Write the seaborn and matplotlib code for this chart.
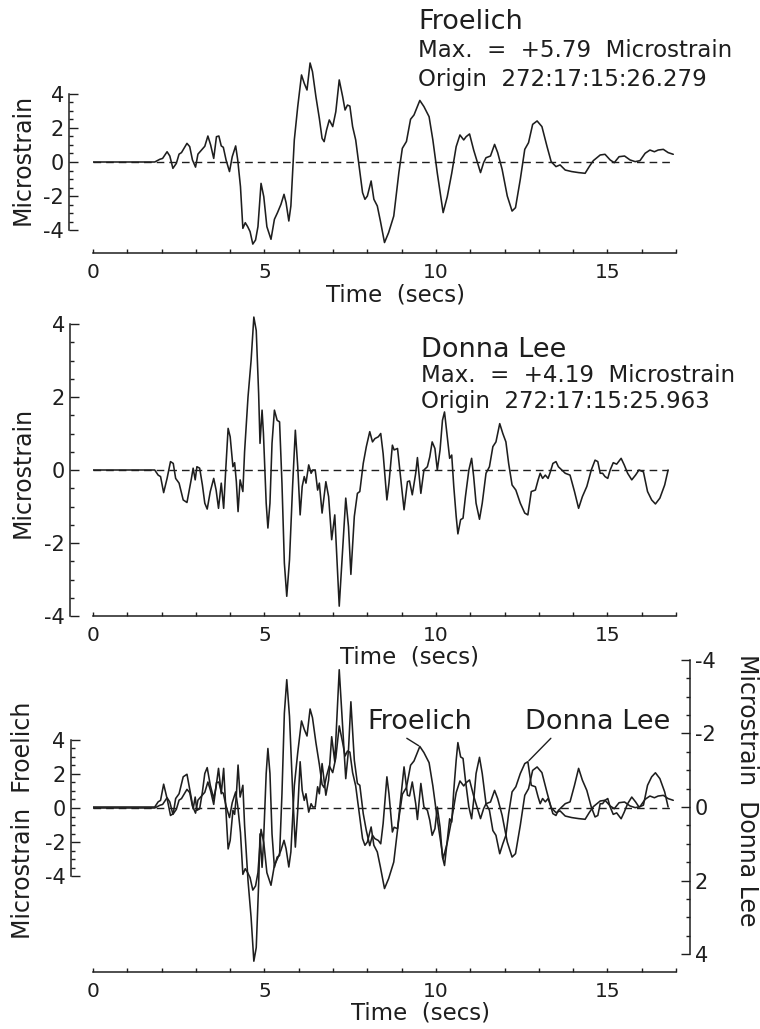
import numpy as np
import matplotlib
matplotlib.use("Agg")
import matplotlib.pyplot as plt
import seaborn as sns
from matplotlib.ticker import FixedLocator

# ---------------- data ----------------
fro_time = [0, 1.80, 1.95, 2.03, 2.16, 2.24, 2.33, 2.43, 2.51, 2.58, 2.74, 2.82, 2.90, 2.99,
            3.06, 3.19, 3.26, 3.35, 3.43, 3.52, 3.60, 3.67, 3.74, 3.80, 3.88, 3.98, 4.06,
            4.16, 4.22, 4.30, 4.37, 4.44, 4.51, 4.58, 4.66, 4.74, 4.81, 4.90, 4.98, 5.07,
            5.19, 5.29, 5.38, 5.48, 5.57, 5.63, 5.71, 5.77, 5.87, 5.97, 6.08, 6.16, 6.24,
            6.33, 6.40, 6.50, 6.60, 6.68, 6.74, 6.81, 6.89, 6.99, 7.08, 7.18, 7.28, 7.35,
            7.42, 7.49, 7.57, 7.66, 7.76, 7.86, 7.93, 8.00, 8.11, 8.19, 8.29, 8.38, 8.50,
            8.62, 8.77, 8.92, 9.02, 9.14, 9.26, 9.36, 9.53, 9.65, 9.80, 9.91, 10.04, 10.21,
            10.33, 10.46, 10.59, 10.70, 10.81, 10.88, 10.98, 11.10, 11.30, 11.39, 11.46,
            11.59, 11.71, 11.80, 11.93, 12.08, 12.22, 12.32, 12.46, 12.59, 12.70, 12.82,
            12.95, 13.09, 13.24, 13.36, 13.50, 13.62, 13.77, 13.96, 14.16, 14.35, 14.47,
            14.59, 14.79, 14.93, 15.08, 15.20, 15.34, 15.50, 15.66, 15.81, 15.95, 16.10,
            16.24, 16.37, 16.48, 16.63, 16.77, 16.92]
fro_strain = [0, 0, 0.16, 0.21, 0.60, 0.35, -0.37, -0.08, 0.46, 0.55, 1.09, 0.90, 0.12, -0.30,
              0.46, 0.76, 0.92, 1.52, 1.00, 0.21, 1.48, 1.52, 0.94, 0.86, 0.12, -0.56, 0.31,
              0.94, 0.12, -1.44, -3.88, -3.55, -3.78, -4.07, -4.80, -4.56, -3.78, -1.25, -2.03,
              -3.78, -4.52, -3.35, -2.96, -2.48, -1.89, -2.38, -3.45, -2.57, 1.29, 3.24, 5.09,
              4.60, 4.21, 5.79, 5.28, 3.82, 2.55, 1.38, 1.19, 1.87, 2.46, 2.07, 2.94, 4.80,
              3.82, 3.04, 3.33, 3.27, 2.07, 1.29, -0.23, -1.79, -2.18, -1.99, -1.11, -2.18,
              -2.57, -3.45, -4.71, -4.13, -3.16, -0.60, 0.80, 1.20, 2.50, 2.75, 3.60, 3.24,
              2.65, 1.29, -0.66, -2.96, -2.03, -0.66, 0.90, 1.58, 1.29, 1.48, 1.64, 0.70,
              -0.62, -0.04, 0.25, 0.35, 1.03, 0.55, -0.43, -1.99, -2.87, -2.67, -1.01, 0.74,
              1.13, 2.20, 2.40, 2.07, 0.90, 0.02, -0.27, -0.17, -0.47, -0.56, -0.62, -0.66,
              -0.27, 0.08, 0.41, 0.45, 0.12, -0.04, 0.31, 0.35, 0.12, 0.02, 0.08, 0.51, 0.70,
              0.60, 0.70, 0.74, 0.55, 0.45]

dl_time = [0, 1.80, 1.90, 1.97, 2.06, 2.16, 2.26, 2.34, 2.41, 2.51, 2.63, 2.74, 2.80, 2.87,
           2.92, 2.98, 3.03, 3.11, 3.19, 3.26, 3.33, 3.42, 3.52, 3.59, 3.66, 3.74, 3.81, 3.87,
           3.94, 4.00, 4.08, 4.13, 4.18, 4.23, 4.29, 4.37, 4.42, 4.52, 4.61, 4.69, 4.76, 4.83,
           4.87, 4.93, 4.97, 5.05, 5.10, 5.16, 5.22, 5.29, 5.37, 5.44, 5.51, 5.58, 5.65, 5.73,
           5.82, 5.90, 5.97, 6.04, 6.10, 6.16, 6.21, 6.29, 6.36, 6.41, 6.48, 6.55, 6.60, 6.68,
           6.79, 6.87, 6.96, 7.05, 7.18, 7.28, 7.37, 7.45, 7.52, 7.62, 7.71, 7.78, 7.88, 7.97,
           8.07, 8.15, 8.22, 8.32, 8.39, 8.46, 8.57, 8.63, 8.73, 8.78, 8.88, 9.07, 9.17, 9.23,
           9.31, 9.41, 9.46, 9.56, 9.65, 9.75, 9.82, 9.89, 9.97, 10.04, 10.12, 10.19, 10.25,
           10.33, 10.40, 10.46, 10.52, 10.59, 10.64, 10.72, 10.79, 10.86, 10.96, 11.04, 11.10,
           11.17, 11.27, 11.35, 11.46, 11.56, 11.66, 11.75, 11.86, 11.95, 12.04, 12.12, 12.22,
           12.33, 12.46, 12.59, 12.68, 12.78, 12.90, 12.98, 13.04, 13.11, 13.19, 13.27, 13.33,
           13.41, 13.50, 13.57, 13.67, 13.77, 13.91, 14.04, 14.16, 14.27, 14.40, 14.53, 14.64,
           14.72, 14.79, 14.86, 14.93, 15.01, 15.08, 15.17, 15.27, 15.40, 15.49, 15.59, 15.71,
           15.82, 15.92, 16.05, 16.17, 16.29, 16.40, 16.53, 16.67, 16.77]
dl_strain = [0, 0, -0.14, -0.18, -0.62, -0.23, 0.23, 0.18, -0.23, -0.36, -0.82, -0.89, -0.59,
             -0.23, 0.05, -0.27, 0.09, 0.05, -0.41, -0.91, -1.07, -0.59, -0.23, -0.55, -1.05,
             -0.36, -1.05, 0.00, 1.14, 0.91, 0.09, 0.20, -0.32, -1.14, -0.27, -0.59, 0.50, 2.00,
             3.00, 4.19, 3.82, 2.09, 0.73, 1.64, 1.00, -0.91, -1.59, -0.91, 0.73, 1.64, 1.36,
             1.32, -0.36, -2.55, -3.46, -2.46, -0.45, 1.09, 0.09, -1.23, -0.45, -0.18, -0.36,
             0.14, -0.09, 0.00, 0.00, -0.55, -0.36, -1.18, -0.32, -0.73, -1.91, -1.23, -3.73,
             -2.18, -0.77, -1.55, -2.86, -1.27, -0.64, -0.59, 0.18, 0.64, 1.05, 0.77, 0.86, 0.91,
             1.00, 0.45, -0.82, -0.36, 0.68, 0.55, 0.59, -1.09, -0.32, -0.30, -0.68, -0.09, 0.34,
             -0.64, 0.00, 0.09, 0.36, 0.77, 0.59, 0.00, 0.55, 1.36, 1.59, 0.91, 0.32, 0.41, -0.45,
             -1.27, -1.75, -1.36, -1.32, -0.73, 0.00, 0.32, -0.18, -0.91, -1.35, -0.91, -0.09,
             0.09, 0.64, 0.77, 1.27, 1.00, 0.77, 0.18, -0.41, -0.55, -0.91, -1.18, -1.23, -0.59,
             -0.55, -0.27, -0.09, -0.23, -0.14, -0.23, -0.07, 0.18, 0.23, 0.09, 0.00, -0.09,
             -0.14, -0.59, -1.05, -0.73, -0.45, 0.00, 0.27, 0.23, -0.09, -0.09, -0.18, -0.23,
             0.00, 0.20, 0.16, 0.32, 0.14, -0.09, -0.27, -0.14, 0.00, -0.05, -0.59, -0.82, -0.93,
             -0.77, -0.41, 0.00]

x_major = [0, 5, 10, 15]
y_major = [-4, -2, 0, 2, 4]
x_label = "Time  (secs)"

fro_title = "Froelich"
fro_max = "Max.  =  +5.79  Microstrain"
fro_origin = "Origin  272:17:15:26.279"
dl_title = "Donna Lee"
dl_max = "Max.  =  +4.19  Microstrain"
dl_origin = "Origin  272:17:15:25.963"

# ---------------- style ----------------
sns.set_style("ticks")
plt.rcParams["font.family"] = ["DejaVu Sans"]
plt.rcParams["axes.unicode_minus"] = False
INK = "#1e1e1e"

W, H = 760, 1029
fig = plt.figure(figsize=(W / 100, H / 100), dpi=100)
fig.patch.set_facecolor("white")


def rect(x0, x1, ytop, ybot):
    return [x0 / W, 1 - ybot / H, (x1 - x0) / W, (ybot - ytop) / H]


def P(x, y):
    return (x / W, 1 - y / H)


def px2pt(p):
    return p * 72.0 / 100.0


XL = (0, 17.0)
X0, X1 = 93, 676


def style_x(ax):
    ax.set_xlim(*XL)
    ax.spines["bottom"].set_visible(True)
    ax.spines["bottom"].set_linewidth(1.1)
    ax.spines["bottom"].set_color(INK)
    ax.xaxis.set_major_locator(FixedLocator(x_major))
    ax.xaxis.set_minor_locator(FixedLocator(np.arange(0, 17.01, 1.0)))
    ax.tick_params(axis="x", which="both", direction="in", length=3.2, width=1,
                   color=INK, labelsize=14.5, labelcolor=INK, pad=7.5,
                   top=False, bottom=True)


def style_y(ax, side, outward_px):
    sp = ax.spines[side]
    sp.set_visible(True)
    sp.set_position(("outward", px2pt(outward_px)))
    sp.set_bounds(-4, 4)
    sp.set_linewidth(1.1)
    sp.set_color(INK)
    ax.yaxis.set_major_locator(FixedLocator(y_major))
    ax.yaxis.set_minor_locator(FixedLocator(np.arange(-4, 4.01, 0.5)))
    ax.tick_params(axis="y", which="major", direction="in", length=6.5, width=1,
                   color=INK, labelsize=15, labelcolor=INK, pad=3.5)
    ax.tick_params(axis="y", which="minor", direction="in", length=3.2, width=1, color=INK)


def bare(ax):
    for s in ["top", "right", "left", "bottom"]:
        ax.spines[s].set_visible(False)
    ax.set_facecolor("none")


def trace(ax, t, v):
    sns.lineplot(x=t, y=v, ax=ax, color=INK, linewidth=1.15, estimator=None,
                 sort=False, legend=False, zorder=3)
    ax.hlines(0, t[0], t[-1], colors=INK, linewidth=1.0,
              linestyles=(0, (5.5, 3.6)), zorder=2)


def xlab(ax, y, xc):
    ax.set_xlabel(x_label, fontsize=16.5, color=INK)
    ax.xaxis.set_label_coords(*P(xc, y), transform=fig.transFigure)
    ax.xaxis.label.set_va("center")


def ylab(ax, text, x, y, rot=90):
    ax.set_ylabel(text, fontsize=17, color=INK, rotation=rot)
    ax.yaxis.set_label_coords(*P(x, y), transform=fig.transFigure)
    ax.yaxis.label.set_va("center")
    ax.yaxis.label.set_ha("center")


# ---------------- panel 1: Froelich ----------------
ax1 = fig.add_axes(rect(X0, X1, 40, 253))
bare(ax1)
trace(ax1, fro_time, fro_strain)
ax1.set_ylim((162 - 253) / 17.1, (162 - 40) / 17.1)
style_x(ax1)
style_y(ax1, "left", 24)
xlab(ax1, 295, 395)
ylab(ax1, "Microstrain", 23, 159)

fig.text(*P(418, 29), fro_title, fontsize=19.5, color=INK, va="baseline")
fig.text(*P(418, 57), fro_max, fontsize=16.5, color=INK, va="baseline")
fig.text(*P(418, 86), fro_origin, fontsize=16.5, color=INK, va="baseline")

# ---------------- panel 2: Donna Lee ----------------
ax2 = fig.add_axes(rect(X0, X1, 300, 616))
bare(ax2)
trace(ax2, dl_time, dl_strain)
ax2.set_ylim(-4, (470 - 300) / 36.5)
style_x(ax2)
style_y(ax2, "left", 23)
xlab(ax2, 657, 410)
ylab(ax2, "Microstrain", 23, 472)

fig.text(*P(421, 357), dl_title, fontsize=19.5, color=INK, va="baseline")
fig.text(*P(421, 382), dl_max, fontsize=16.5, color=INK, va="baseline")
fig.text(*P(421, 408), dl_origin, fontsize=16.5, color=INK, va="baseline")

# ---------------- panel 3: overlay ----------------
ax3 = fig.add_axes(rect(X0, X1, 655, 972))
bare(ax3)
trace(ax3, fro_time, fro_strain)
ax3.set_ylim((808 - 972) / 17.1, (808 - 655) / 17.1)
style_x(ax3)
style_y(ax3, "left", 22.5)
xlab(ax3, 1013, 420)
ylab(ax3, "Microstrain  Froelich", 23, 820)

ax3r = ax3.twinx()
bare(ax3r)
sns.lineplot(x=dl_time, y=dl_strain, ax=ax3r, color=INK, linewidth=1.15, estimator=None,
             sort=False, legend=False, zorder=3)
ax3r.set_ylim((972 - 807) / 36.8, (655 - 807) / 36.8)
ax3r.set_xlim(*XL)
style_y(ax3r, "right", 14)
ax3r.tick_params(axis="y", which="both", left=False, right=True,
                 labelleft=False, labelright=True)
ax3r.tick_params(axis="x", which="both", bottom=False, top=False,
                 labelbottom=False)
ylab(ax3r, "Microstrain  Donna Lee", 747, 790, rot=-90)

# pointers to the traces
ft = np.array(fro_time)
fv = np.array(fro_strain)
win = (ft > 9) & (ft < 10.5)
i_f = np.flatnonzero(win)[np.argmax(fv[win])]
ax3.annotate(fro_title, xy=(ft[i_f], fv[i_f]), xycoords="data",
             xytext=P(367, 729), textcoords="figure fraction",
             fontsize=19.5, color=INK, va="baseline", ha="left",
             arrowprops=dict(arrowstyle="-", color=INK, lw=1.0,
                             relpos=(0.33, 0.0), shrinkA=0, shrinkB=1))

dt = np.array(dl_time)
dv = np.array(dl_strain)
win = (dt > 12.3) & (dt < 13.2)
i_d = np.flatnonzero(win)[np.argmin(dv[win])]
ax3r.annotate(dl_title, xy=(dt[i_d], dv[i_d]), xycoords="data",
              xytext=P(525, 729), textcoords="figure fraction",
              fontsize=19.5, color=INK, va="baseline", ha="left",
              arrowprops=dict(arrowstyle="-", color=INK, lw=1.0,
                              relpos=(0.2, 0.0), shrinkA=0, shrinkB=1))

fig.savefig("out.png", dpi=100, facecolor="white")
